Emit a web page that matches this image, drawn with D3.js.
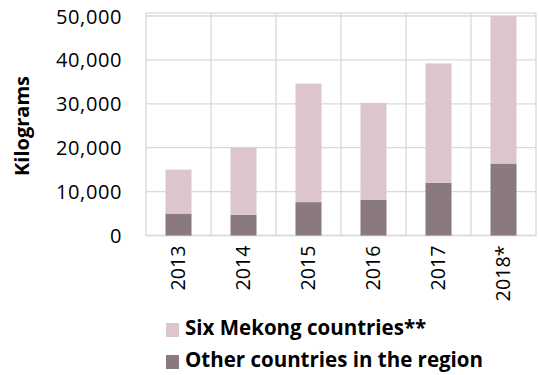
<!DOCTYPE html>
<html><head><meta charset="utf-8">
<script src="https://cdn.jsdelivr.net/npm/d3@7"></script>
<style>
body{margin:0;background:#fff;}
text{font-family:"Open Sans",sans-serif;fill:#000;}
</style></head>
<body><svg id="c" width="539" height="375"></svg>
<script>
const years = ["2013","2014","2015","2016","2017","2018*"];
const other = [5000, 4700, 7600, 8100, 12000, 16400];
const mekong = [10000, 15300, 27000, 22100, 27200, 33600];
const yTicks = [0, 10000, 20000, 30000, 40000, 50000];
const seriesNames = ["Six Mekong countries**", "Other countries in the region"];
const colors = {mekong:"#dcc5cf", other:"#8b7980"};

const svg = d3.select("#c");
const pLeft = 146, pRight = 536, pTop = 13, pBottom = 235.5;
const x = d3.scaleBand().domain(years).range([pLeft, pRight]).paddingInner(0).paddingOuter(0);
const y = d3.scaleLinear().domain([0, 50000]).range([pBottom, 16]);

const g = svg.append("g");
g.append("rect").attr("x", pLeft).attr("y", pTop).attr("width", pRight-pLeft).attr("height", pBottom-pTop)
  .attr("fill","none").attr("stroke","#d9d9d9").attr("stroke-width",1.3);
g.selectAll(".hg").data(yTicks).join("line").attr("x1",pLeft).attr("x2",pRight)
  .attr("y1",d=>y(d)).attr("y2",d=>y(d)).attr("stroke","#d9d9d9").attr("stroke-width",1.3);
g.selectAll(".vg").data(years.slice(1)).join("line").attr("x1",d=>x(d)).attr("x2",d=>x(d))
  .attr("y1",pTop).attr("y2",pBottom).attr("stroke","#d9d9d9").attr("stroke-width",1.3);

const data = years.map((yr,i)=>({year:yr, other:other[i], mekong:mekong[i]}));
const stack = d3.stack().keys(["other","mekong"])(data);
const bw = x.bandwidth()*0.4;
svg.append("g").selectAll("g").data(stack).join("g").attr("fill",d=>colors[d.key])
  .selectAll("rect").data(d=>d).join("rect")
  .attr("x",d=>x(d.data.year)+x.bandwidth()/2-bw/2).attr("width",bw)
  .attr("y",d=>y(d[1])).attr("height",d=>y(d[0])-y(d[1]));

const yAxis = d3.axisLeft(y).tickValues(yTicks).tickFormat(d3.format(",")).tickSize(0).tickPadding(0);
const ya = svg.append("g").attr("transform","translate(122,0)").call(yAxis);
ya.select(".domain").remove();
ya.selectAll("text").attr("font-size","20px").attr("letter-spacing","0.6px").attr("font-family","Open Sans").attr("fill","#000").attr("dy","0.35em");

const xAxis = d3.axisBottom(x).tickSize(0).tickPadding(0);
const xa = svg.append("g").attr("transform",`translate(0,${pBottom})`).call(xAxis);
xa.select(".domain").remove();
xa.selectAll("text").attr("font-size","19.7px").attr("font-family","Open Sans").attr("fill","#000")
  .attr("transform","rotate(-90)").attr("text-anchor","end").attr("x",-10).attr("y",0).attr("dy","0.35em");

svg.append("text").attr("transform","translate(22,126) rotate(-90)").attr("text-anchor","middle")
  .attr("dy","0.35em").attr("font-size","20px").attr("font-weight","bold").text("Kilograms");

const lg = svg.append("g");
const items = [{n:seriesNames[0], c:colors.mekong},{n:seriesNames[1], c:colors.other}];
items.forEach((it,i)=>{
  const yy = 328 + i*32;
  lg.append("rect").attr("x",166).attr("y",yy-5).attr("width",13).attr("height",14).attr("fill",it.c);
  lg.append("text").attr("x",185).attr("y",yy).attr("dy","0.35em").attr("font-size","20.5px").attr("font-weight","bold").text(it.n);
});
</script></body></html>
